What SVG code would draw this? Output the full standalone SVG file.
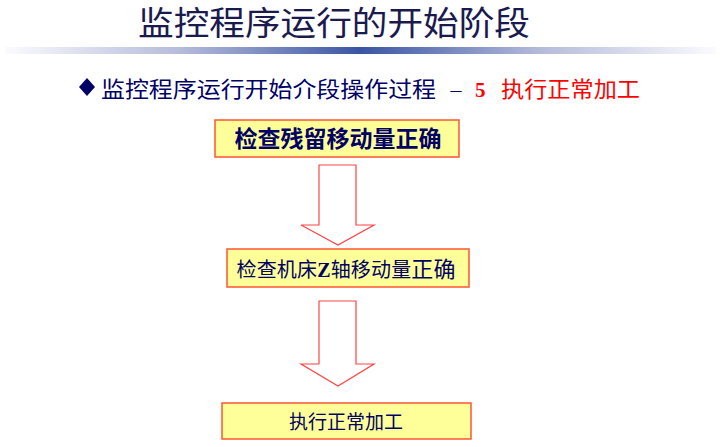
<svg xmlns="http://www.w3.org/2000/svg" width="721" height="447" viewBox="0 0 721 447">
<defs>
<linearGradient id="bar" x1="0" y1="0" x2="1" y2="0">
<stop offset="0" stop-color="#fbfbfe"/>
<stop offset="0.25" stop-color="#b4bada"/>
<stop offset="0.5" stop-color="#3a55a3"/>
<stop offset="0.75" stop-color="#b4bada"/>
<stop offset="1" stop-color="#fbfbfe"/>
</linearGradient>
<style>
.t{font-family:"Liberation Serif","Noto Sans CJK SC",serif;fill:#000066}
.r{font-family:"Liberation Serif","Noto Sans CJK SC",serif;fill:#ff0000}
.box{fill:#ffff99;stroke:#ff5533;stroke-width:1.5}
.arrow{fill:#ffffff;stroke:#ff4444;stroke-width:1.2}
</style>
</defs>
<rect width="721" height="447" fill="#ffffff"/>
<text class="t" x="138" y="35" font-size="33" textLength="392" lengthAdjust="spacingAndGlyphs" style="fill:#1a1a4e">监控程序运行的开始阶段</text>
<rect x="5" y="47" width="711" height="7" fill="url(#bar)"/>
<polygon points="87,78 95,87 87,96 79,87" fill="#000066"/>
<text class="t" x="101" y="97" font-size="22" textLength="335" lengthAdjust="spacingAndGlyphs">监控程序运行开始介段操作过程</text>
<text class="t" x="456" y="97" font-size="22" text-anchor="middle">–</text>
<text class="r" x="475" y="97" font-size="21" font-weight="bold">5</text>
<text class="r" x="501" y="97" font-size="22" textLength="139" lengthAdjust="spacingAndGlyphs">执行正常加工</text>
<g id="node1">
<rect class="box" x="215" y="120" width="244" height="37"/>
<text class="t" x="338" y="147" font-size="23" font-weight="bold" text-anchor="middle">检查残留移动量正确</text>
</g>
<g id="node2">
<rect class="box" x="227" y="249" width="242" height="38"/>
<text class="t" x="346" y="277" font-size="20" text-anchor="middle" textLength="219" lengthAdjust="spacing">检查机床<tspan font-weight="bold">Z</tspan>轴移动量<tspan font-size="22">正确</tspan></text>
</g>
<g id="node3">
<rect class="box" x="222" y="403" width="249" height="36"/>
<text class="t" x="346" y="429" font-size="19" text-anchor="middle">执行正常加工</text>
</g>
<g id="connectors">
<polygon class="arrow" points="319,165 356,165 356,225 374,225 338,245 301,225 319,225"/>
<polygon class="arrow" points="319,301 356,301 356,364 374,364 338,386 301,364 319,364"/>
</g>
</svg>
